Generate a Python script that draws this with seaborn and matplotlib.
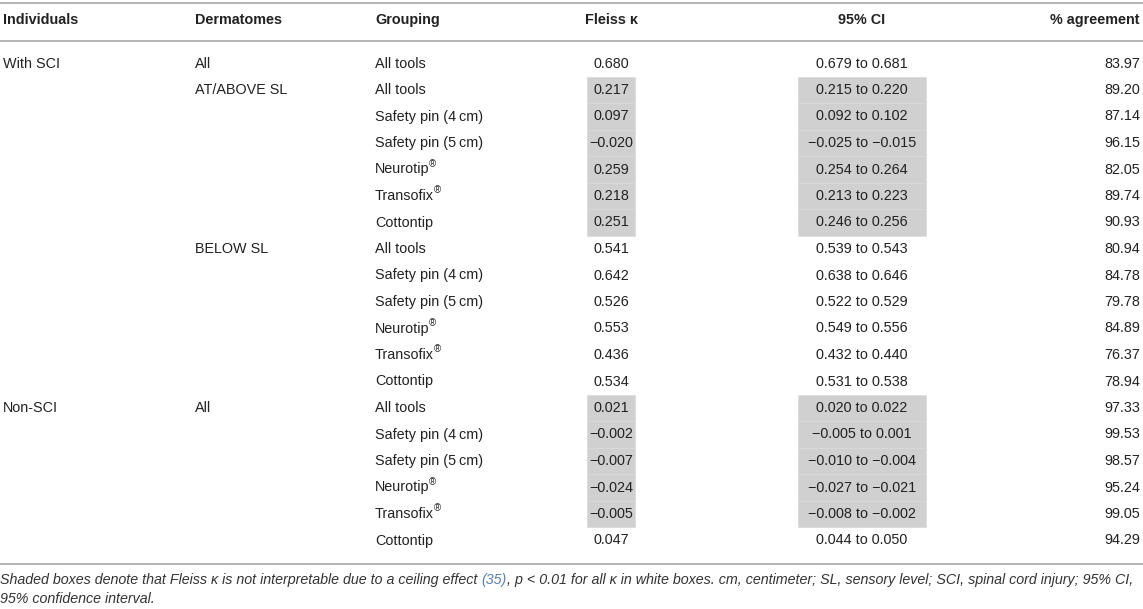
import matplotlib
matplotlib.use("Agg")
import matplotlib.pyplot as plt
from matplotlib.patches import Rectangle
import seaborn as sns

# ---------------- data ----------------
headers = ["Individuals", "Dermatomes", "Grouping", "Fleiss \u03ba", "95% CI", "% agreement"]
individuals = ["With SCI"] + [""] * 12 + ["Non-SCI"] + [""] * 5
dermatomes = ["All", "AT/ABOVE SL", "", "", "", "", "",
              "BELOW SL", "", "", "", "", "",
              "All", "", "", "", "", ""]
grouping = ["All tools",
            "All tools", "Safety pin (4\u2009cm)", "Safety pin (5\u2009cm)", "Neurotip\u00ae", "Transofix\u00ae", "Cottontip",
            "All tools", "Safety pin (4\u2009cm)", "Safety pin (5\u2009cm)", "Neurotip\u00ae", "Transofix\u00ae", "Cottontip",
            "All tools", "Safety pin (4\u2009cm)", "Safety pin (5\u2009cm)", "Neurotip\u00ae", "Transofix\u00ae", "Cottontip"]
kappa = [0.680, 0.217, 0.097, -0.020, 0.259, 0.218, 0.251,
         0.541, 0.642, 0.526, 0.553, 0.436, 0.534,
         0.021, -0.002, -0.007, -0.024, -0.005, 0.047]
ci_low = [0.679, 0.215, 0.092, -0.025, 0.254, 0.213, 0.246,
          0.539, 0.638, 0.522, 0.549, 0.432, 0.531,
          0.020, -0.005, -0.010, -0.027, -0.008, 0.044]
ci_high = [0.681, 0.220, 0.102, -0.015, 0.264, 0.223, 0.256,
           0.543, 0.646, 0.529, 0.556, 0.440, 0.538,
           0.022, 0.001, -0.004, -0.021, -0.002, 0.050]
agreement = [83.97, 89.20, 87.14, 96.15, 82.05, 89.74, 90.93,
             80.94, 84.78, 79.78, 84.89, 76.37, 78.94,
             97.33, 99.53, 98.57, 95.24, 99.05, 94.29]
shaded = [False] + [True] * 6 + [False] * 6 + [True] * 5 + [False]

footnote_line1 = [
    ("Shaded boxes denote that Fleiss \u03ba is not interpretable due to a ceiling effect ", "text"),
    ("(35)", "link"),
    (", p < 0.01 for all \u03ba in white boxes. cm, centimeter; SL, sensory level; SCI, spinal cord injury; 95% CI,", "text"),
]
footnote_line2 = [("95% confidence interval.", "text")]

# ---------------- style ----------------
sns.set_theme(style="white")
plt.rcParams["font.family"] = ["Liberation Sans", "DejaVu Sans"]

W, H = 1143, 609
fig = plt.figure(figsize=(W / 100, H / 100), dpi=100)
ax = fig.add_axes([0, 0, 1, 1])
ax.set_xlim(0, W)
ax.set_ylim(H, 0)
ax.axis("off")
renderer = fig.canvas.get_renderer()

TXT = "#222222"
RULE = "#b3b3b3"
SHADE = "#d0d0d0"
LINK = "#5a80aa"
FS = 10.4
FS_NOTE = 10.3

x_ind, x_derm, x_group = 3, 195, 375
x_kappa, x_ci, x_agree = 611, 862, 1140
w_kappa_box, w_ci_box = 48, 128

y_top, y_head, y_headrule = 3, 20, 41
y_row0, row_h = 63.5, 26.5
y_bottom = 564
y_note1, y_note2 = 580, 599


def fmt(v):
    return f"{v:.3f}".replace("-", "\u2212")


def text_right_edge(t):
    bb = t.get_window_extent(renderer=renderer)
    return ax.transData.inverted().transform((bb.x1, bb.y0))[0]


def draw_label(x, y, s, **kw):
    if s.endswith("\u00ae"):
        t = ax.text(x, y, s[:-1], ha="left", va="center", **kw)
        xe = text_right_edge(t)
        ax.text(xe - 0.5, y - 5.5, "\u00ae", ha="left", va="center",
                fontsize=kw.get("fontsize", FS) * 0.68, color=kw.get("color", TXT))
    else:
        ax.text(x, y, s, ha="left", va="center", **kw)


# rules
for yy in (y_top, y_headrule, y_bottom):
    ax.plot([0, W], [yy, yy], color=RULE, lw=1.4, solid_capstyle="butt")

# header
hkw = dict(fontsize=FS, fontweight="bold", color=TXT, va="center")
ax.text(x_ind, y_head, headers[0], ha="left", **hkw)
ax.text(x_derm, y_head, headers[1], ha="left", **hkw)
ax.text(x_group, y_head, headers[2], ha="left", **hkw)
ax.text(x_kappa, y_head, headers[3], ha="center", **hkw)
ax.text(x_ci, y_head, headers[4], ha="center", **hkw)
ax.text(x_agree, y_head, headers[5], ha="right", **hkw)

# body
bkw = dict(fontsize=FS, color=TXT)
for i in range(len(kappa)):
    y = y_row0 + i * row_h
    if shaded[i]:
        for xc, wb in ((x_kappa, w_kappa_box), (x_ci, w_ci_box)):
            ax.add_patch(Rectangle((xc - wb / 2, y - row_h / 2), wb, row_h,
                                   facecolor=SHADE, edgecolor="#d9d9d9", lw=0.5, zorder=0))
    if individuals[i]:
        ax.text(x_ind, y, individuals[i], ha="left", va="center", **bkw)
    if dermatomes[i]:
        ax.text(x_derm, y, dermatomes[i], ha="left", va="center", **bkw)
    draw_label(x_group, y, grouping[i], **bkw)
    ax.text(x_kappa, y, fmt(kappa[i]), ha="center", va="center", **bkw)
    ax.text(x_ci, y, f"{fmt(ci_low[i])} to {fmt(ci_high[i])}", ha="center", va="center", **bkw)
    ax.text(x_agree, y, f"{agreement[i]:.2f}", ha="right", va="center", **bkw)


# footnote
def draw_segments(x, y, segs):
    for s, kind in segs:
        t = ax.text(x, y, s, ha="left", va="center", fontsize=FS_NOTE, fontstyle="italic",
                    color=LINK if kind == "link" else "#333333")
        x = text_right_edge(t)


draw_segments(0, y_note1, footnote_line1)
draw_segments(0, y_note2, footnote_line2)

fig.savefig("out.png", dpi=100)
